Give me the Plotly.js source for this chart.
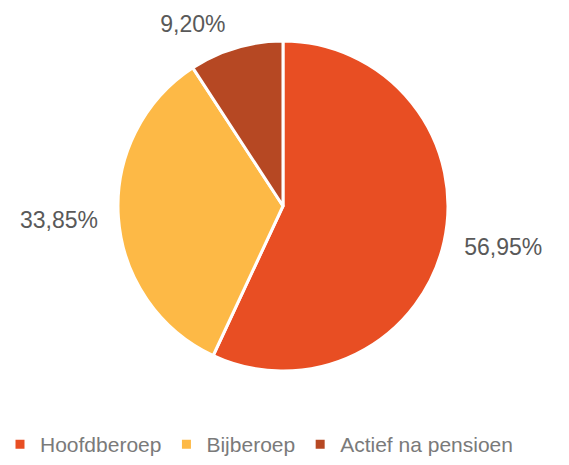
<!DOCTYPE html>
<html>
<head>
<meta charset="utf-8">
<script src="https://cdn.plot.ly/plotly-3.0.1.min.js"></script>
<style>html,body{margin:0;padding:0;background:#fff;}#chart{width:569px;height:465px;}</style>
</head>
<body>
<div id="chart"></div>
<script>
const categories = ["Hoofdberoep", "Bijberoep", "Actief na pensioen"];
const values = [56.95, 33.85, 9.20];
const valueLabels = ["56,95%", "33,85%", "9,20%"];
const colors = ["#E84E23", "#FDB946", "#B64823"];

const FONT = "Liberation Sans, Arial, sans-serif";

// visible pie, no text
const pie = {
  type: "pie",
  labels: categories,
  values: values,
  textinfo: "none",
  sort: false,
  direction: "clockwise",
  rotation: 0,
  marker: {colors: colors, line: {color: "#ffffff", width: 3}},
  domain: {x: [0.2074, 0.7873], y: [0.2022, 0.9118]},
  hoverinfo: "label+percent"
};

// transparent, slightly larger pie that only carries the outside labels
const labelRing = {
  type: "pie",
  labels: categories,
  values: values,
  text: valueLabels,
  textinfo: "text",
  textposition: "outside",
  sort: false,
  direction: "clockwise",
  rotation: 0,
  showlegend: false,
  hoverinfo: "skip",
  marker: {colors: ["rgba(0,0,0,0)", "rgba(0,0,0,0)", "rgba(0,0,0,0)"], line: {width: 0}},
  outsidetextfont: {family: FONT, size: 23, color: "#595959"},
  textfont: {family: FONT, size: 23, color: "#595959"},
  domain: {x: [0.1828, 0.8120], y: [0.1690, 0.9389]}
};

const layout = {
  width: 569, height: 465,
  margin: {l: 0, r: 0, t: 0, b: 0},
  paper_bgcolor: "#ffffff",
  showlegend: true,
  legend: {
    orientation: "h",
    x: 0.453, xanchor: "center",
    y: 0.0, yanchor: "bottom",
    font: {family: FONT, size: 21, color: "#7a7a7a"},
    itemwidth: 30,
    traceorder: "normal"
  }
};

Plotly.newPlot("chart", [pie, labelRing], layout, {displayModeBar: false, staticPlot: true});
</script>
</body>
</html>
